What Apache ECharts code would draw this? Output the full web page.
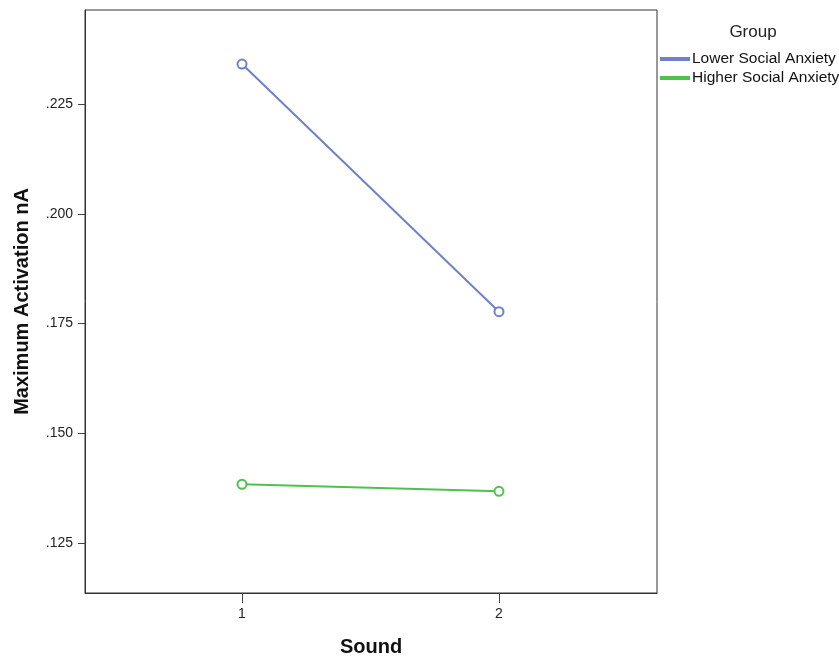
<!DOCTYPE html>
<html><head><meta charset="utf-8">
<script src="https://cdn.jsdelivr.net/npm/echarts@6/dist/echarts.min.js"></script>
<style>html,body{margin:0;padding:0;background:#fff}#c{width:839px;height:658px}</style>
</head><body><div id="c"></div>
<script>
var categories = [1, 2];
var seriesNames = ['Lower Social Anxiety', 'Higher Social Anxiety'];
var lowerValues = [0.2341, 0.1777];
var higherValues = [0.1384, 0.1368];
var yTicks = [0.125, 0.150, 0.175, 0.200, 0.225];
var colors = ['#6e81c9', '#4dc24d'];

var chart = echarts.init(document.getElementById('c'));
function pairs(vals){ return categories.map(function(c,i){ return [c, vals[i]]; }); }
var allVals = [lowerValues, higherValues];
chart.setOption({
  animation: false,
  textStyle: { fontFamily: 'Liberation Sans, Arial, sans-serif' },
  grid: { left: 85, top: 10, width: 572, height: 583, show: true, borderColor: '#333', borderWidth: 1, containLabel: false, outerBoundsMode: 'none' },
  title: { text: 'Group', left: 748, top: 19, textAlign: 'center', textStyle: { fontSize: 17, fontWeight: 'normal', color: '#222' } },
  legend: {
    orient: 'vertical', left: 660, top: 51, padding: 0, itemGap: 3, itemWidth: 28, itemHeight: 2,
    icon: 'rect',
    textStyle: { fontSize: 15.5, lineHeight: 16, color: '#111', padding: [0,0,0,-2] },
    data: seriesNames
  },
  xAxis: {
    type: 'value', min: 0.389, max: 2.615, interval: 1,
    name: 'Sound', nameLocation: 'middle', nameGap: 44,
    nameTextStyle: { fontSize: 20, fontWeight: 'bold', color: '#111' },
    axisLine: { show: true, lineStyle: { color: '#333', width: 1 } },
    axisTick: { show: true, length: 10, lineStyle: { color: '#444' }, customValues: categories },
    axisLabel: { fontSize: 14, color: '#222', margin: 14, customValues: categories, formatter: function(v){ return String(v); } },
    splitLine: { show: false }
  },
  yAxis: {
    type: 'value', min: 0.11365, max: 0.2464,
    name: 'Maximum Activation nA', nameLocation: 'middle', nameGap: 53, nameRotate: 90,
    nameTextStyle: { fontSize: 20, fontWeight: 'bold', color: '#111' },
    axisLine: { show: true, lineStyle: { color: '#333', width: 1 } },
    axisTick: { show: true, length: 7, lineStyle: { color: '#444' }, customValues: yTicks },
    axisLabel: { fontSize: 14, color: '#222', margin: 12, customValues: yTicks, formatter: function(v){ return v.toFixed(3).replace(/^0/, ''); } },
    splitLine: { show: false }
  },
  series: seriesNames.map(function(n, i){
    return {
      name: n, type: 'line', data: pairs(allVals[i]),
      symbol: 'emptyCircle', symbolSize: 9,
      lineStyle: { color: colors[i], width: 2 },
      itemStyle: { color: colors[i], borderColor: colors[i], borderWidth: 1.5 }
    };
  })
});
</script></body></html>
